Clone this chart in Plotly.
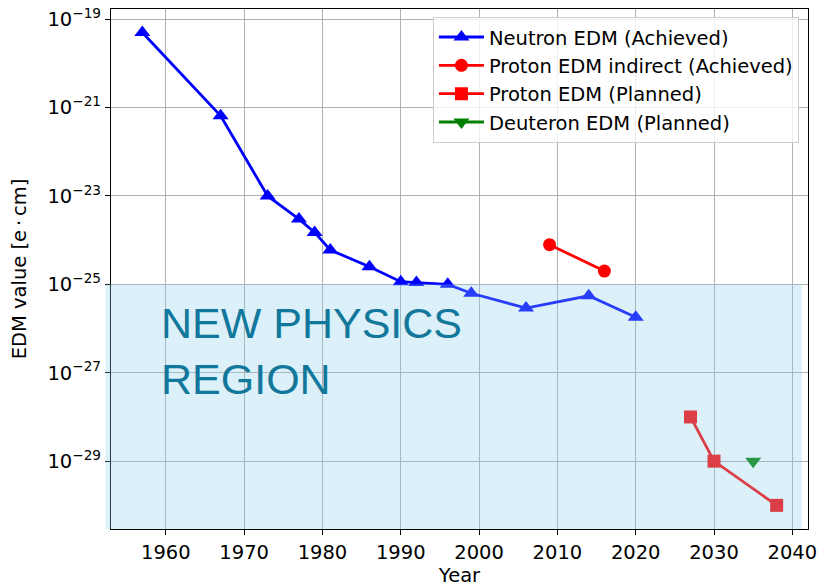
import plotly.graph_objects as go

# ---------------- data ----------------
neutron_years = [1957, 1967, 1973, 1977, 1979, 1981, 1986, 1990, 1992, 1996, 1999, 2006, 2014, 2020]
neutron_edm = [5e-20, 6.5e-22, 1e-23, 3e-24, 1.5e-24, 6e-25, 2.5e-25, 1.15e-25, 1.1e-25, 1e-25,
               6.3e-26, 2.9e-26, 5.5e-26, 1.8e-26]

proton_ind_years = [2009, 2016]
proton_ind_edm = [7.9e-25, 2.0e-25]

proton_plan_years = [2027, 2030, 2038]
proton_plan_edm = [1e-28, 1e-29, 1e-30]

deuteron_years = [2035]
deuteron_edm = [1e-29]

x_ticks = [1960, 1970, 1980, 1990, 2000, 2010, 2020, 2030, 2040]
y_ticks = [1e-19, 1e-21, 1e-23, 1e-25, 1e-27, 1e-29]
y_ticktext = ["10<sup>\u221219</sup>", "10<sup>\u221221</sup>", "10<sup>\u221223</sup>",
              "10<sup>\u221225</sup>", "10<sup>\u221227</sup>", "10<sup>\u221229</sup>"]

new_physics_limit = 1e-25

FONT = "DejaVu Sans"
FS = 19.5

fig = go.Figure()

fig.add_trace(go.Scatter(
    x=neutron_years, y=neutron_edm, mode="lines+markers",
    name="Neutron EDM (Achieved)",
    line=dict(color="#0000ff", width=2.8),
    marker=dict(symbol="triangle-up", size=14, color="#0000ff"),
))
fig.add_trace(go.Scatter(
    x=proton_ind_years, y=proton_ind_edm, mode="lines+markers",
    name="Proton EDM indirect (Achieved)",
    line=dict(color="#ff0000", width=2.8),
    marker=dict(symbol="circle", size=13, color="#ff0000"),
))
fig.add_trace(go.Scatter(
    x=proton_plan_years, y=proton_plan_edm, mode="lines+markers",
    name="Proton EDM (Planned)",
    line=dict(color="#ff0000", width=2.8),
    marker=dict(symbol="square", size=13, color="#ff0000"),
))
fig.add_trace(go.Scatter(
    x=deuteron_years, y=deuteron_edm, mode="lines+markers",
    name="Deuteron EDM (Planned)",
    line=dict(color="#008000", width=2.8),
    marker=dict(symbol="triangle-down", size=14, color="#008000"),
))

# shaded "new physics" region (drawn above the data, semi-transparent)
fig.add_shape(
    type="rect", xref="paper", yref="y",
    x0=-0.008, x1=0.991, y0=1e-32, y1=new_physics_limit,
    fillcolor="#87ceeb", opacity=0.3, line=dict(width=0), layer="above",
)

fig.add_annotation(
    text="NEW PHYSICS<br>REGION", xref="x", yref="y",
    x=1959.15, y=-26.5, xanchor="left", yanchor="middle", align="left",
    showarrow=False,
    font=dict(family="Liberation Sans, Arial, sans-serif", size=43, color="#12789b"),
)

axis_common = dict(
    showline=True, linecolor="#000000", linewidth=1.2, mirror=True,
    showgrid=True, gridcolor="#b0b0b0", gridwidth=1.2,
    ticks="outside", ticklen=5, tickwidth=1.2, tickcolor="#000000",
    tickfont=dict(family=FONT, size=FS, color="#000000"),
    zeroline=False, automargin=False, ticklabeloverflow="allow",
)

fig.update_xaxes(
    range=[1953, 2042], tickvals=x_ticks,
    title=dict(text="Year", font=dict(family=FONT, size=FS, color="#000000"), standoff=14),
    **axis_common,
)
fig.update_yaxes(
    type="log", range=[-30.535, -18.77], tickvals=y_ticks, ticktext=y_ticktext,
    title=dict(text="EDM value [e\u2009\u00b7\u2009cm]", font=dict(family=FONT, size=FS, color="#000000"), standoff=15),
    **axis_common,
)

fig.update_layout(
    width=817, height=587,
    margin=dict(l=111, r=9, t=9, b=58),
    paper_bgcolor="white", plot_bgcolor="white",
    font=dict(family=FONT, size=FS, color="#000000"),
    showlegend=True,
    legend=dict(
        x=0.987, y=0.985, xanchor="right", yanchor="top",
        bgcolor="rgba(255,255,255,0.8)", bordercolor="#cccccc", borderwidth=1,
        font=dict(family=FONT, size=FS, color="#000000"),
        itemwidth=45,
    ),
)

# remove the browser's default 8px body margin so the figure fills the window
fig.write_html("out.html", config={"displayModeBar": False},
               post_script="document.body.style.margin='0';")
